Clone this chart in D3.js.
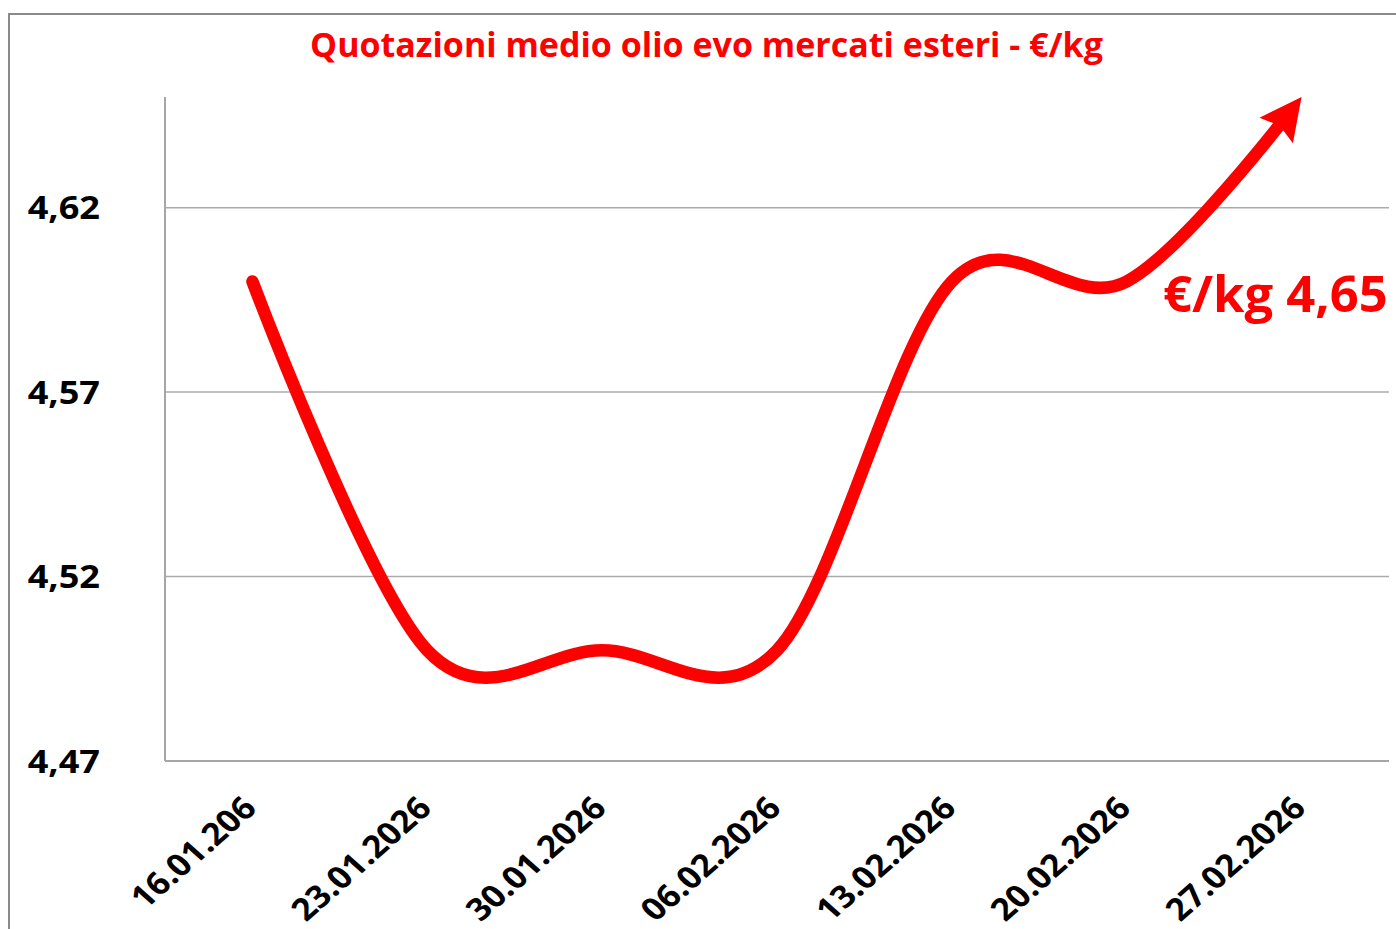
<!DOCTYPE html>
<html>
<head>
<meta charset="utf-8">
<script src="https://cdn.jsdelivr.net/npm/d3@7"></script>
<style>
  html, body { margin: 0; padding: 0; background: #fff; }
  svg { display: block; }
  text { font-family: "Open Sans", Lato, sans-serif; font-weight: 700; }
</style>
</head>
<body>
<script>
// ---- data ----
const categories = ["16.01.206", "23.01.2026", "30.01.2026", "06.02.2026", "13.02.2026", "20.02.2026", "27.02.2026"];
const values = [4.60, 4.50, 4.50, 4.50, 4.60, 4.60, 4.65];
const yTicks = [4.47, 4.52, 4.57, 4.62];
const yTickLabels = ["4,47", "4,52", "4,57", "4,62"];
const titleText = "Quotazioni medio olio evo mercati esteri - €/kg";
const annotationText = "€/kg 4,65";

// ---- layout ----
const W = 1396, H = 929;
const plot = { left: 165, right: 1389, top: 97, bottom: 761 };
const red = "#ff0000";
const stretch = 1.13;

const svg = d3.select("body").append("svg").attr("width", W).attr("height", H);

// outer frame
svg.append("path")
  .attr("d", `M9,${H + 5} V14 H${W + 5}`)
  .attr("fill", "none").attr("stroke", "#8a8a8a").attr("stroke-width", 2);

const x = d3.scaleBand().domain(categories).range([plot.left, plot.right]).padding(0);
const y = d3.scaleLinear().domain([4.47, 4.65]).range([plot.bottom, plot.top]);

function fit(sel, target) {
  const s0 = parseFloat(sel.attr("font-size"));
  const w = sel.node().getComputedTextLength();
  sel.attr("font-size", s0 * target / w);
}

// gridlines
svg.append("g").selectAll("line").data(yTicks.filter(d => d > 4.47)).join("line")
  .attr("x1", plot.left).attr("x2", plot.right)
  .attr("y1", d => y(d)).attr("y2", d => y(d))
  .attr("stroke", "#ababab").attr("stroke-width", 1.5);

// axes lines
svg.append("line").attr("x1", plot.left).attr("x2", plot.left)
  .attr("y1", plot.top).attr("y2", plot.bottom)
  .attr("stroke", "#a6a6a6").attr("stroke-width", 2);
svg.append("line").attr("x1", plot.left).attr("x2", plot.right)
  .attr("y1", plot.bottom).attr("y2", plot.bottom)
  .attr("stroke", "#a6a6a6").attr("stroke-width", 2);

// y tick labels
svg.append("g").selectAll("text").data(yTicks).join("text")
  .attr("transform", d => `translate(100,${y(d)}) scale(${stretch},1)`)
  .attr("dy", "0.36em")
  .attr("text-anchor", "end").attr("font-size", 32).attr("fill", "#000")
  .text((d, i) => yTickLabels[i]);

// x tick labels
svg.append("g").selectAll("text").data(categories).join("text")
  .attr("text-anchor", "end").attr("font-size", 31).attr("fill", "#000")
  .attr("transform", d => `translate(${x(d) + x.bandwidth() / 2 + 6},${810}) scale(${stretch},1) rotate(-45)`)
  .text(d => d);

// title
const title = svg.append("text")
  .attr("x", 706.5).attr("y", 57).attr("text-anchor", "middle")
  .attr("font-size", 30).attr("fill", red).text(titleText);
fit(title, 793);

// arrow marker
const defs = svg.append("defs");
defs.append("marker")
  .attr("id", "arrowhead")
  .attr("markerUnits", "userSpaceOnUse")
  .attr("viewBox", "0 -24 44 48")
  .attr("refX", 42).attr("refY", 0)
  .attr("markerWidth", 44).attr("markerHeight", 48)
  .attr("orient", "auto")
  .append("path")
  .attr("d", "M0,-21 L42,0 L0,21 L6,0 Z")
  .attr("fill", red);

// line
const line = d3.line()
  .x((d, i) => x(categories[i]) + x.bandwidth() / 2)
  .y(d => y(d))
  .curve(d3.curveCardinal.tension(0));

const path = svg.append("path")
  .datum(values)
  .attr("d", line)
  .attr("fill", "none")
  .attr("stroke", red)
  .attr("stroke-width", 12.5)
  .attr("stroke-linecap", "round")
  .attr("stroke-linejoin", "round")
  .attr("marker-end", "url(#arrowhead)");
const L = path.node().getTotalLength();
path.attr("stroke-dasharray", `${L - 30} ${L}`);

// annotation
const ann = svg.append("text")
  .attr("x", 1163).attr("y", 312).attr("text-anchor", "start")
  .attr("font-size", 46).attr("fill", red).text(annotationText);
fit(ann, 225);
</script>
</body>
</html>
